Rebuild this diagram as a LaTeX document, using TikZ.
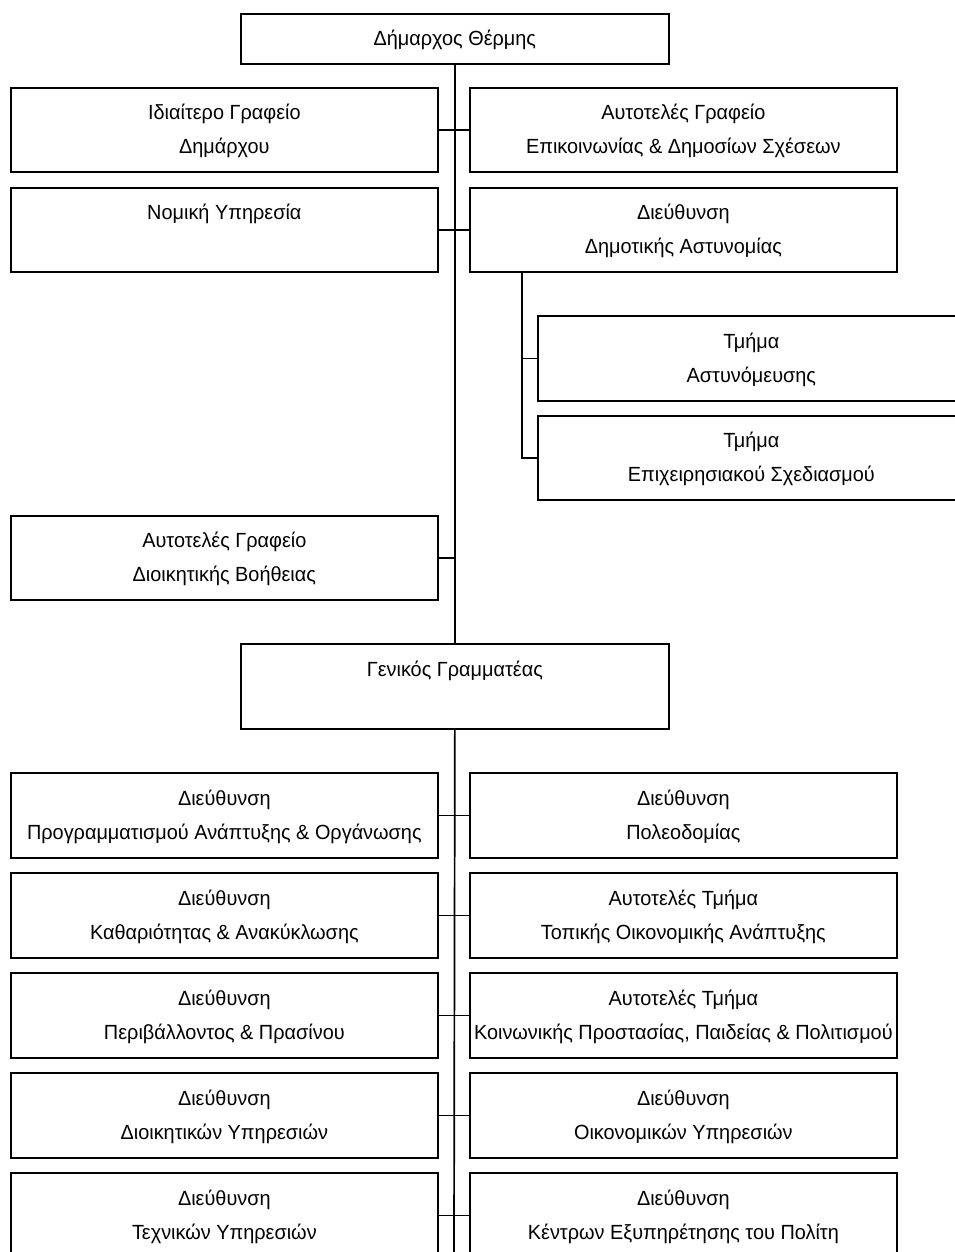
\documentclass[tikz,border=0pt]{standalone}
\usepackage{fontspec}
\setmainfont{Liberation Sans}[FakeStretch=0.97]
\begin{document}
\begin{tikzpicture}[x=1pt,y=-1pt,
  box/.style={draw=black, line width=1.7pt, fill=white, minimum width=427pt, minimum height=84pt,
    inner sep=0pt, align=center, anchor=north west, font=\fontsize{20.5}{34}\selectfont},
  link/.style={draw=black, line width=1.7pt}]
\useasboundingbox (0,0) rectangle (954,1252);
% top part
\node[box, minimum width=428pt, minimum height=50pt] (mayor) at (240,13) {\strut Δήμαρχος Θέρμης};
\node[box] (l1) at (10,87) {\strut Ιδιαίτερο Γραφείο\\\strut Δημάρχου};
\node[box] (r1) at (469,87) {\strut Αυτοτελές Γραφείο\\\strut Επικοινωνίας \& Δημοσίων Σχέσεων};
\node[box] (l2) at (10,187) {\strut Νομική Υπηρεσία\\\strut};
\node[box] (r2) at (469,187) {\strut Διεύθυνση\\\strut Δημοτικής Αστυνομίας};
\node[box, minimum height=85pt] (s1) at (537,315) {\strut Τμήμα\\\strut Αστυνόμευσης};
\node[box] (s2) at (537,415) {\strut Τμήμα\\\strut Επιχειρησιακού Σχεδιασμού};
\node[box] (l3) at (10,515) {\strut Αυτοτελές Γραφείο\\\strut Διοικητικής Βοήθειας};
\node[box, minimum width=428pt, minimum height=85pt] (gg) at (240,643) {\strut Γενικός Γραμματέας\\\strut};
% lower part
\node[box, minimum height=85pt] (a1) at (10,772) {\strut Διεύθυνση\\\strut Προγραμματισμού Ανάπτυξης \& Οργάνωσης};
\node[box, minimum height=85pt] (b1) at (469,772) {\strut Διεύθυνση\\\strut Πολεοδομίας};
\node[box, minimum height=85pt] (a2) at (10,872) {\strut Διεύθυνση\\\strut Καθαριότητας \& Ανακύκλωσης};
\node[box, minimum height=85pt] (b2) at (469,872) {\strut Αυτοτελές Τμήμα\\\strut Τοπικής Οικονομικής Ανάπτυξης};
\node[box, minimum height=85pt] (a3) at (10,972) {\strut Διεύθυνση\\\strut Περιβάλλοντος \& Πρασίνου};
\node[box, minimum height=85pt] (b3) at (469,972) {\strut Αυτοτελές Τμήμα\\\strut Κοινωνικής Προστασίας, Παιδείας \& Πολιτισμού};
\node[box, minimum height=85pt] (a4) at (10,1072) {\strut Διεύθυνση\\\strut Διοικητικών Υπηρεσιών};
\node[box, minimum height=85pt] (b4) at (469,1072) {\strut Διεύθυνση\\\strut Οικονομικών Υπηρεσιών};
\node[box, minimum height=85pt] (a5) at (10,1172) {\strut Διεύθυνση\\\strut Τεχνικών Υπηρεσιών};
\node[box, minimum height=85pt] (b5) at (469,1172) {\strut Διεύθυνση\\\strut Κέντρων Εξυπηρέτησης του Πολίτη};
% connectors
\coordinate (bot) at (454,1252);
\coordinate (stem) at ([xshift=53pt]r2.south west);
\draw[link] (mayor.south) -- (gg.north);
\draw[link] (gg.south) -- (bot);
\foreach \l/\r in {l1/r1, l2/r2, a1/b1, a2/b2, a3/b3, a4/b4, a5/b5}
  \draw[link] (\l.east) -- (\r.west);
\draw[link] (l3.east) -- (l3.east -| mayor.south);
\draw[link] (stem) |- (s1.west);
\draw[link] (stem) |- (s2.west);
\end{tikzpicture}
\end{document}
